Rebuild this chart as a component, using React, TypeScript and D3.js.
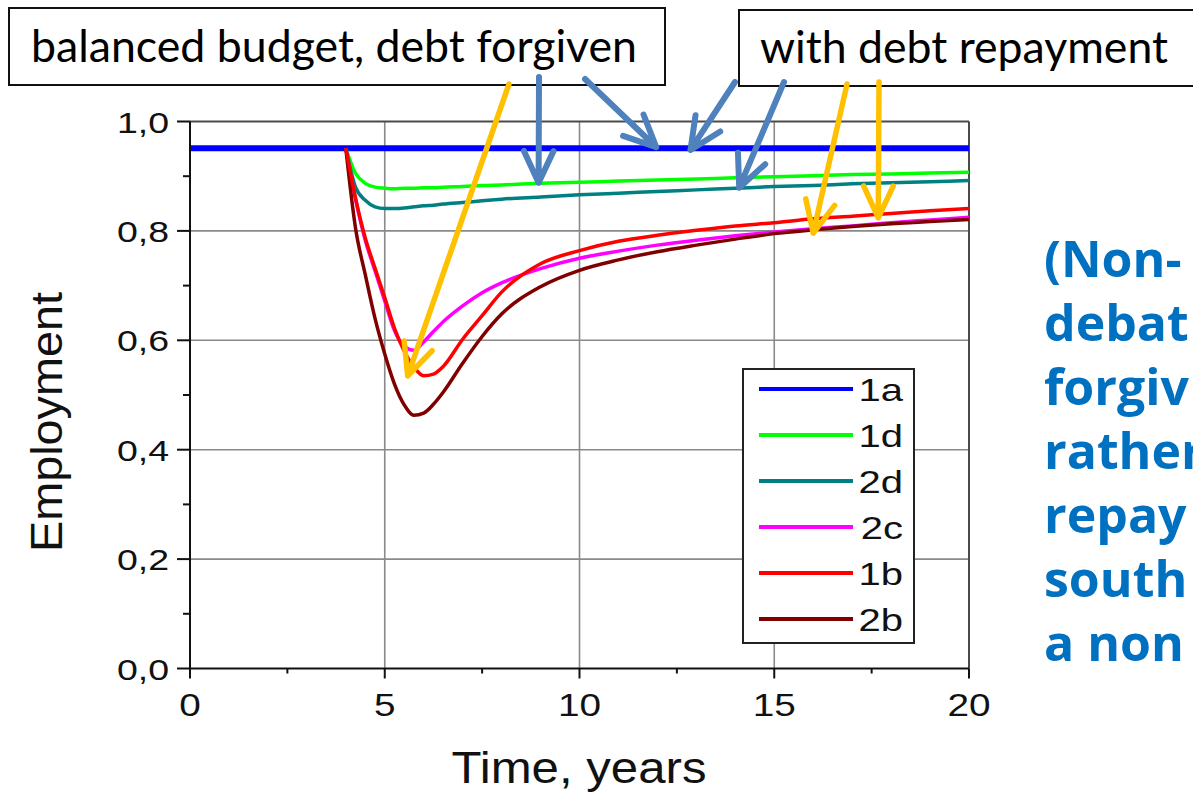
import React from 'react';
import * as d3 from 'd3';

// ---------- data ----------
const TIME = [4, 4.25, 4.5, 4.75, 5, 5.25, 5.5, 5.75, 6, 6.25, 6.5, 7, 7.5, 8, 9, 10, 11, 12, 13, 14, 15, 16, 17, 18, 19, 20];
const TIME_1A = [0, 20];
const S_1A = [0.951, 0.951];
const S_1D = [0.951, 0.905, 0.887, 0.88, 0.878, 0.877, 0.878, 0.878, 0.879, 0.879, 0.88, 0.881, 0.883, 0.884, 0.887, 0.889, 0.891, 0.893, 0.895, 0.897, 0.899, 0.901, 0.903, 0.904, 0.906, 0.907];
const S_2D = [0.951, 0.88, 0.856, 0.844, 0.841, 0.841, 0.842, 0.844, 0.846, 0.847, 0.849, 0.852, 0.855, 0.858, 0.862, 0.866, 0.869, 0.872, 0.875, 0.878, 0.881, 0.883, 0.886, 0.888, 0.89, 0.892];
const S_2C = [0.951, 0.858, 0.783, 0.727, 0.672, 0.618, 0.589, 0.582, 0.597, 0.616, 0.634, 0.663, 0.687, 0.705, 0.731, 0.75, 0.763, 0.774, 0.783, 0.791, 0.798, 0.804, 0.809, 0.815, 0.82, 0.825];
const S_1B = [0.951, 0.86, 0.787, 0.732, 0.678, 0.622, 0.58, 0.551, 0.535, 0.538, 0.552, 0.602, 0.645, 0.688, 0.74, 0.764, 0.781, 0.792, 0.801, 0.809, 0.815, 0.822, 0.827, 0.832, 0.837, 0.841];
const S_2B = [0.951, 0.805, 0.72, 0.64, 0.575, 0.52, 0.482, 0.463, 0.467, 0.483, 0.505, 0.558, 0.607, 0.648, 0.698, 0.728, 0.747, 0.762, 0.774, 0.785, 0.795, 0.802, 0.808, 0.813, 0.817, 0.821];

const LEGEND_LABELS = ['1a', '1d', '2d', '2c', '1b', '2b'];
const X_TICKS = [0, 5, 10, 15, 20];
const X_MINOR = [2.5, 7.5, 12.5, 17.5];
const Y_TICKS = [0, 0.2, 0.4, 0.6, 0.8, 1.0];
const Y_MINOR = [0.1, 0.3, 0.5, 0.7, 0.9];
const X_TITLE = 'Time, years';
const Y_TITLE = 'Employment';
const BOX1_TEXT = 'balanced budget, debt forgiven';
const BOX2_TEXT = 'with debt repayment';
const SIDE_TEXT = ['(Non-', 'debat', 'forgiv', 'rather', 'repay', 'south', 'a non'];

// arrow targets in data space
const BLUE_ARROW_TIPS = [
  { t: 8.95, v: 0.888 },
  { t: 11.97, v: 0.953 },
  { t: 12.85, v: 0.948 },
  { t: 14.1, v: 0.879 },
];
const ORANGE_ARROW_TIPS = [
  { t: 5.59, v: 0.535 },
  { t: 16.0, v: 0.796 },
  { t: 17.67, v: 0.824 },
];

// ---------- styling ----------
const COLORS: Record<string, string> = {
  '1a': '#0000ff',
  '1d': '#00ff00',
  '2d': '#008080',
  '2c': '#ff00ff',
  '1b': '#ff0000',
  '2b': '#800000',
};

const W = 1193;
const H = 792;
const PL = 190, PR = 969, PT = 121.5, PB = 668.5;

const x = d3.scaleLinear().domain([0, 20]).range([PL, PR]);
const y = d3.scaleLinear().domain([0, 1]).range([PB, PT]);

const fmt = (v: number) => v.toFixed(1).replace('.', ',');

function arrowPath(x1: number, y1: number, x2: number, y2: number, len = 35, ang = 25) {
  const a = Math.atan2(y1 - y2, x1 - x2);
  const r = (ang * Math.PI) / 180;
  const w1x = x2 + len * Math.cos(a + r), w1y = y2 + len * Math.sin(a + r);
  const w2x = x2 + len * Math.cos(a - r), w2y = y2 + len * Math.sin(a - r);
  return `M${x1},${y1}L${x2},${y2}M${w1x},${w1y}L${x2},${y2}L${w2x},${w2y}`;
}

export default function App() {
  const line = d3
    .line<number>()
    .curve(d3.curveMonotoneX);

  const mk = (ts: number[], vs: number[]) => line(ts.map((t, i) => [x(t), y(vs[i])] as any) as any) || '';

  const series = [
    { key: '1a', d: mk(TIME_1A, S_1A), w: 6 },
    { key: '1d', d: mk(TIME, S_1D), w: 3.5 },
    { key: '2d', d: mk(TIME, S_2D), w: 3.5 },
    { key: '2c', d: mk(TIME, S_2C), w: 3.5 },
    { key: '2b', d: mk(TIME, S_2B), w: 3.5 },
    { key: '1b', d: mk(TIME, S_1B), w: 3.5 },
  ];

  const blueStarts = [
    [539, 77],
    [585, 79],
    [735, 82],
    [784, 82],
  ];
  const orangeStarts = [
    [509, 84],
    [847, 84],
    [879, 82],
  ];

  const axisFont = '"Liberation Sans", Arial, sans-serif';
  const gridColor = '#8a8a8a';

  return (
    <div style={{ position: 'absolute', left: 0, top: 0, width: W, height: H, overflow: 'hidden', background: '#fff' }}>
      <svg width={W} height={H} style={{ display: 'block' }}>
        <rect x={0} y={0} width={W} height={H} fill="#fff" />
        <defs>
          <clipPath id="plotclip">
            <rect x={PL} y={PT - 6} width={PR - PL} height={PB - PT + 6} />
          </clipPath>
        </defs>

        {/* grid */}
        {X_TICKS.filter((t) => t > 0 && t < 20).map((t) => (
          <line key={'gx' + t} x1={x(t)} x2={x(t)} y1={PT} y2={PB} stroke={gridColor} strokeWidth={1.6} />
        ))}
        {Y_TICKS.filter((t) => t > 0 && t < 1).map((t) => (
          <line key={'gy' + t} x1={PL} x2={PR} y1={y(t)} y2={y(t)} stroke={gridColor} strokeWidth={1.6} />
        ))}

        {/* frame top/right */}
        <line x1={PL} x2={PR} y1={PT} y2={PT} stroke="#4a4a4a" strokeWidth={2} />
        <line x1={PR} x2={PR} y1={PT} y2={PB} stroke="#4a4a4a" strokeWidth={2} />

        {/* data lines */}
        <g clipPath="url(#plotclip)">
          {series.map((s) => (
            <path key={s.key} d={s.d} fill="none" stroke={COLORS[s.key]} strokeWidth={s.w} strokeLinejoin="round" />
          ))}
        </g>

        {/* axes */}
        <line x1={PL} x2={PL} y1={PT} y2={PB} stroke="#111" strokeWidth={2} />
        <line x1={PL} x2={PR} y1={PB} y2={PB} stroke="#111" strokeWidth={2} />
        {Y_TICKS.map((t) => (
          <line key={'ty' + t} x1={PL - 13} x2={PL} y1={y(t)} y2={y(t)} stroke="#111" strokeWidth={2} />
        ))}
        {Y_MINOR.map((t) => (
          <line key={'tym' + t} x1={PL - 7} x2={PL} y1={y(t)} y2={y(t)} stroke="#111" strokeWidth={2} />
        ))}
        {X_TICKS.map((t) => (
          <line key={'tx' + t} x1={x(t)} x2={x(t)} y1={PB} y2={PB + 10} stroke="#111" strokeWidth={2} />
        ))}
        {X_MINOR.map((t) => (
          <line key={'txm' + t} x1={x(t)} x2={x(t)} y1={PB} y2={PB + 5} stroke="#111" strokeWidth={2} />
        ))}

        {/* tick labels */}
        {Y_TICKS.map((t) => (
          <text
            key={'ly' + t}
            transform={`translate(${PL - 21},${y(t) + 11}) scale(1.25,1)`}
            textAnchor="end"
            fontFamily={axisFont}
            fontSize={30}
            fill="#111"
          >
            {fmt(t)}
          </text>
        ))}
        {X_TICKS.map((t) => (
          <text
            key={'lx' + t}
            transform={`translate(${x(t)},${PB + 47}) scale(1.25,1)`}
            textAnchor="middle"
            fontFamily={axisFont}
            fontSize={31}
            fill="#111"
          >
            {t}
          </text>
        ))}

        {/* titles */}
        <text
          x={579}
          y={783}
          textAnchor="middle"
          fontFamily={axisFont}
          fontSize={44}
          fill="#111"
          textLength={255}
          lengthAdjust="spacingAndGlyphs"
        >
          {X_TITLE}
        </text>
        <text
          transform={`translate(62,422) rotate(-90)`}
          textAnchor="middle"
          fontFamily={axisFont}
          fontSize={45}
          fill="#111"
          textLength={260}
          lengthAdjust="spacingAndGlyphs"
        >
          {Y_TITLE}
        </text>

        {/* legend */}
        <rect x={743} y={369} width={171} height={274} fill="#fff" stroke="#222" strokeWidth={2} />
        {LEGEND_LABELS.map((k, i) => {
          const ly = 389 + i * 46;
          return (
            <g key={'lg' + k}>
              <line x1={759} x2={853} y1={ly} y2={ly} stroke={COLORS[k]} strokeWidth={4} />
              <text
                transform={`translate(903,${ly + 12}) scale(1.25,1)`}
                textAnchor="end"
                fontFamily={axisFont}
                fontSize={32}
                fill="#111"
              >
                {k}
              </text>
            </g>
          );
        })}

        {/* annotation boxes */}
        <rect x={9} y={8} width={656} height={77} fill="#fff" stroke="#111" strokeWidth={2} />
        <text
          x={31}
          y={62}
          fontFamily="Lato, 'Open Sans', sans-serif"
          fontSize={44}
          fill="#000"
          textLength={606}
          lengthAdjust="spacingAndGlyphs"
        >
          {BOX1_TEXT}
        </text>
        <rect x={739} y={10} width={470} height={76} fill="#fff" stroke="#111" strokeWidth={2} />
        <text
          x={760}
          y={63}
          fontFamily="Lato, 'Open Sans', sans-serif"
          fontSize={44}
          fill="#000"
          textLength={408}
          lengthAdjust="spacingAndGlyphs"
        >
          {BOX2_TEXT}
        </text>

        {/* side text */}
        {SIDE_TEXT.map((s, i) => (
          <text
            key={'st' + i}
            x={1044}
            y={277 + i * 64}
            fontFamily="'Open Sans', sans-serif"
            fontWeight={700}
            fontSize={50}
            fill="#0070c0"
          >
            {s}
          </text>
        ))}

        {/* arrows */}
        {BLUE_ARROW_TIPS.map((p, i) => (
          <path
            key={'ba' + i}
            d={arrowPath(blueStarts[i][0], blueStarts[i][1], x(p.t), y(p.v))}
            fill="none"
            stroke="#4f81bd"
            strokeWidth={6}
            strokeLinecap="round"
            strokeLinejoin="round"
          />
        ))}
        {ORANGE_ARROW_TIPS.map((p, i) => (
          <path
            key={'oa' + i}
            d={arrowPath(orangeStarts[i][0], orangeStarts[i][1], x(p.t), y(p.v))}
            fill="none"
            stroke="#ffc000"
            strokeWidth={5.5}
            strokeLinecap="round"
            strokeLinejoin="round"
          />
        ))}
      </svg>
    </div>
  );
}
